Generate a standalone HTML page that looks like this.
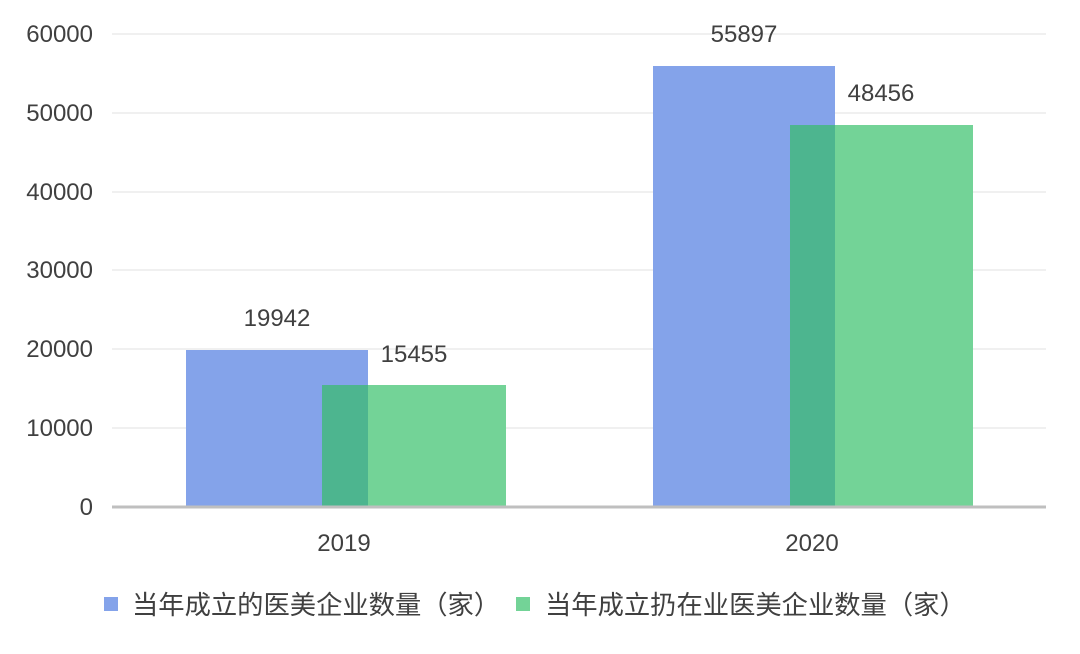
<!DOCTYPE html>
<html><head><meta charset="utf-8"><style>
body{margin:0;background:#fff;}
svg text{font-family:"Liberation Sans","Noto Sans CJK SC",sans-serif;fill:#404040;}
</style></head><body>
<svg width="1080" height="649" viewBox="0 0 1080 649" xmlns="http://www.w3.org/2000/svg">
<g stroke="#ebebeb" stroke-width="1.5">
<line x1="112" x2="1046" y1="34" y2="34"/>
<line x1="112" x2="1046" y1="113" y2="113"/>
<line x1="112" x2="1046" y1="192" y2="192"/>
<line x1="112" x2="1046" y1="270" y2="270"/>
<line x1="112" x2="1046" y1="349" y2="349"/>
<line x1="112" x2="1046" y1="428" y2="428"/>
</g>
<g font-size="24" text-anchor="end">
<text x="93" y="42">60000</text>
<text x="93" y="121">50000</text>
<text x="93" y="200">40000</text>
<text x="93" y="278">30000</text>
<text x="93" y="357">20000</text>
<text x="93" y="436">10000</text>
<text x="93" y="515">0</text>
</g>
<rect x="186" y="350" width="182" height="157" fill="#84a3ea"/>
<rect x="322" y="385" width="184" height="122" fill="#73d397"/>
<rect x="322" y="385" width="46" height="122" fill="#4db58f"/>
<rect x="653" y="66" width="182" height="441" fill="#84a3ea"/>
<rect x="790" y="125" width="183" height="382" fill="#73d397"/>
<rect x="790" y="125" width="45" height="382" fill="#4db58f"/>
<line x1="112" x2="1046" y1="507" y2="507" stroke="#bfbfbf" stroke-width="3"/>
<g font-size="24" text-anchor="middle">
<text x="277" y="326">19942</text>
<text x="414" y="362">15455</text>
<text x="744" y="42">55897</text>
<text x="881" y="101">48456</text>
<text x="344" y="551">2019</text>
<text x="812" y="551">2020</text>
</g>
<rect x="104" y="597" width="14" height="14" fill="#84a3ea"/>
<text x="132" y="614" font-size="26.3" fill="#595959">当年成立的医美企业数量（家）</text>
<rect x="516" y="597" width="14" height="14" fill="#73d397"/>
<text x="545" y="614" font-size="26.3" fill="#595959">当年成立扔在业医美企业数量（家）</text>
</svg>
</body></html>
